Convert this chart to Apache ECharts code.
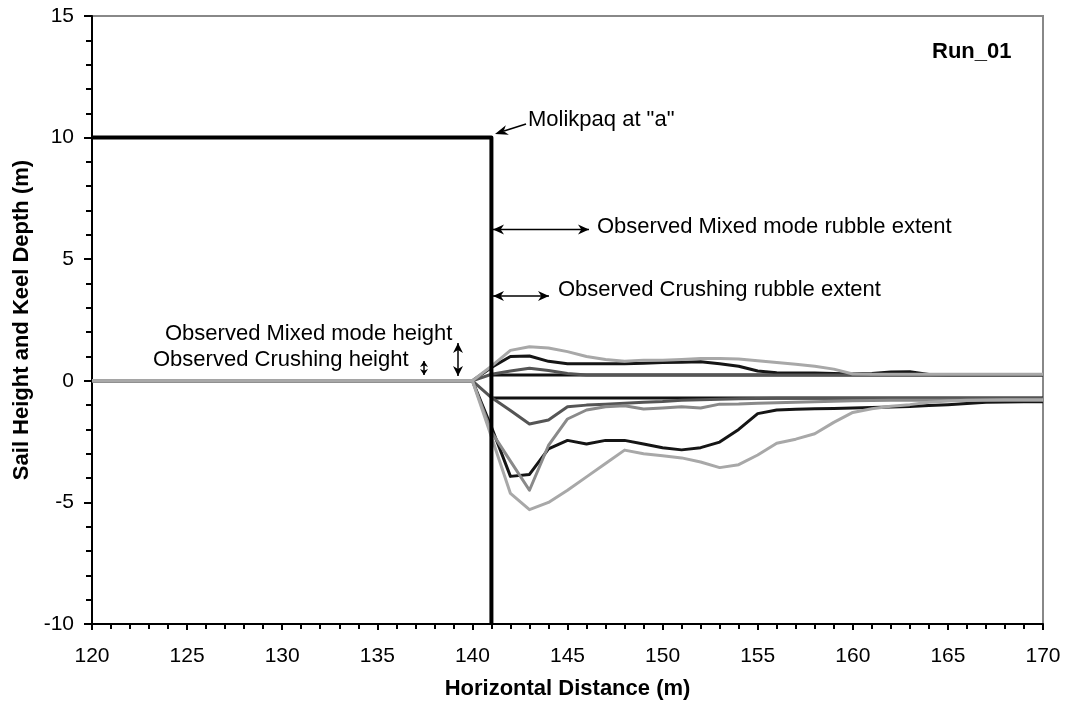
<!DOCTYPE html>
<html>
<head>
<meta charset="utf-8">
<script src="https://cdn.jsdelivr.net/npm/echarts@6/dist/echarts.min.js"></script>
<style>
  html, body { margin: 0; padding: 0; background: #fff; }
  #main { width: 1066px; height: 705px; }
</style>
</head>
<body>
<div id="main"></div>
<script>
// horizontal distance (m): 120, then every metre from 140 to 170
const dist = [120, 140, 141, 142, 143, 144, 145, 146, 147, 148, 149, 150, 151, 152, 153, 154, 155,
  156, 157, 158, 159, 160, 161, 162, 163, 164, 165, 166, 167, 168, 169, 170]

// sail heights (m)
const sailLight = [0, 0, 0.6, 1.25, 1.4, 1.35, 1.2, 1.0, 0.88, 0.8, 0.85, 0.85, 0.88, 0.92, 0.92, 0.9, 0.82,
  0.75, 0.68, 0.6, 0.48, 0.28, 0.27, 0.27, 0.27, 0.27, 0.27, 0.27, 0.27, 0.27, 0.27, 0.27]
const sailBlack = [0, 0, 0.55, 1.0, 1.02, 0.8, 0.7, 0.7, 0.7, 0.7, 0.72, 0.75, 0.76, 0.78, 0.7, 0.6, 0.4,
  0.33, 0.32, 0.32, 0.3, 0.28, 0.3, 0.36, 0.37, 0.26, 0.25, 0.25, 0.25, 0.25, 0.25, 0.25]
const sailDark = [0, 0, 0.27, 0.4, 0.52, 0.42, 0.3, 0.24, 0.24, 0.24, 0.24, 0.24, 0.24, 0.24, 0.24, 0.24, 0.24,
  0.24, 0.24, 0.24, 0.24, 0.24, 0.24, 0.24, 0.24, 0.24, 0.24, 0.24, 0.24, 0.24, 0.24, 0.24]

// keel depths (m)
const keelLight = [0, 0, -2.3, -4.63, -5.3, -5.0, -4.5, -3.95, -3.4, -2.85, -3.0, -3.08, -3.17, -3.34, -3.57, -3.45, -3.05,
  -2.57, -2.4, -2.18, -1.71, -1.3, -1.15, -1.05, -0.98, -0.88, -0.83, -0.8, -0.79, -0.78, -0.78, -0.78]
const keelBlack = [0, 0, -1.9, -3.93, -3.85, -2.8, -2.45, -2.6, -2.45, -2.45, -2.6, -2.75, -2.84, -2.75, -2.52, -2.0, -1.35,
  -1.2, -1.17, -1.15, -1.14, -1.12, -1.1, -1.08, -1.06, -1.02, -0.98, -0.93, -0.88, -0.87, -0.86, -0.86]
const keelMid = [0, 0, -2.1, -3.3, -4.5, -2.66, -1.57, -1.2, -1.07, -1.03, -1.16, -1.12, -1.07, -1.12, -0.96, -0.95, -0.92,
  -0.9, -0.88, -0.86, -0.84, -0.82, -0.81, -0.8, -0.8, -0.8, -0.8, -0.8, -0.8, -0.8, -0.8, -0.8]
const keelDark = [0, 0, -0.69, -1.22, -1.78, -1.61, -1.07, -1.0, -0.96, -0.92, -0.88, -0.85, -0.8, -0.78, -0.76, -0.74, -0.73,
  -0.72, -0.72, -0.72, -0.72, -0.72, -0.72, -0.72, -0.72, -0.72, -0.72, -0.72, -0.72, -0.72, -0.72, -0.72]

// level ice surfaces
const levelX = [141, 170]
const iceTop = [0.24, 0.24]
const iceBottom = [-0.71, -0.71]

// Molikpaq outline
const molX = [120, 141, 141]
const molY = [10, 10, -10]

const pairs = (xs, ys) => xs.map((x, i) => [x, ys[i]])

function lineSeries (xs, ys, color, width, z) {
  return {
    type: 'line',
    data: pairs(xs, ys),
    showSymbol: false,
    symbol: 'none',
    silent: true,
    z: z,
    lineStyle: { color: color, width: width, join: 'round' }
  }
}

// filled arrow head, tip at (x, y), pointing along (dx, dy)
function head (x, y, dx, dy, len, hw) {
  const l = Math.sqrt(dx * dx + dy * dy)
  const ux = dx / l
  const uy = dy / l
  const bx = x - ux * len
  const by = y - uy * len
  const nx = x - ux * len * 0.7
  const ny = y - uy * len * 0.7
  return {
    type: 'polygon',
    shape: { points: [[x, y], [bx - uy * hw, by + ux * hw], [nx, ny], [bx + uy * hw, by - ux * hw]] },
    style: { fill: '#000' }
  }
}

function dblArrow (x1, y1, x2, y2, len, hw) {
  return [
    { type: 'line', shape: { x1: x1, y1: y1, x2: x2, y2: y2 }, style: { stroke: '#000', lineWidth: 1.5 } },
    head(x1, y1, x1 - x2, y1 - y2, len, hw),
    head(x2, y2, x2 - x1, y2 - y1, len, hw)
  ]
}

function label (text, x, y, opts) {
  return {
    type: 'text',
    x: x,
    y: y,
    style: Object.assign({
      text: text,
      fill: '#000',
      font: '22px "Liberation Sans", Arial, sans-serif',
      verticalAlign: 'middle',
      align: 'left'
    }, opts || {})
  }
}

const myChart = echarts.init(document.getElementById('main'))

const graphics = [].concat(
  dblArrow(493, 229.5, 589, 229.5, 11, 5),
  dblArrow(493, 296, 549, 296, 11, 5),
  dblArrow(458, 343, 458, 376, 10, 5),
  dblArrow(424, 361, 424, 375, 6, 4),
  [
    { type: 'line', shape: { x1: 526, y1: 124, x2: 504, y2: 131 }, style: { stroke: '#000', lineWidth: 1.5 } },
    head(495, 134, -31, 10, 13, 5),
    label('Molikpaq at "a"', 528, 120),
    label('Observed Mixed mode rubble extent', 597, 227),
    label('Observed Crushing rubble extent', 558, 290),
    label('Observed Mixed mode height', 165, 333.5),
    label('Observed Crushing height', 153, 360),
    label('Run_01', 932, 52, { font: 'bold 22px "Liberation Sans", Arial, sans-serif' })
  ]
)

myChart.setOption({
  animation: false,
  backgroundColor: '#fff',
  textStyle: { fontFamily: '"Liberation Sans", Arial, sans-serif' },
  grid: {
    left: 92,
    top: 16,
    right: 23,
    bottom: 77,
    show: true,
    borderColor: '#888',
    borderWidth: 2
  },
  xAxis: {
    type: 'value',
    min: 120,
    max: 170,
    interval: 5,
    name: 'Horizontal Distance (m)',
    nameLocation: 'middle',
    nameGap: 54,
    nameTextStyle: { fontSize: 22, fontWeight: 'bold', color: '#000' },
    axisLine: { onZero: false, lineStyle: { color: '#000', width: 2 } },
    axisTick: { length: 6, lineStyle: { color: '#000', width: 2 } },
    minorTick: { show: true, splitNumber: 5, length: 5, lineStyle: { color: '#000', width: 2 } },
    splitLine: { show: false },
    axisLabel: { fontSize: 21, color: '#000', margin: 22 }
  },
  yAxis: {
    type: 'value',
    min: -10,
    max: 15,
    interval: 5,
    name: 'Sail Height and Keel Depth (m)',
    nameLocation: 'middle',
    nameGap: 58,
    nameTextStyle: { fontSize: 22, fontWeight: 'bold', color: '#000' },
    axisLine: { onZero: false, lineStyle: { color: '#000', width: 2 } },
    axisTick: { length: 8, lineStyle: { color: '#000', width: 2 } },
    minorTick: { show: true, splitNumber: 5, length: 6, lineStyle: { color: '#000', width: 2 } },
    splitLine: { show: false },
    axisLabel: { fontSize: 21, color: '#000', margin: 18 }
  },
  series: [
    lineSeries(levelX, iceTop, '#111', 3, 2),
    lineSeries(levelX, iceBottom, '#111', 3, 2),
    lineSeries(dist, sailBlack, '#151515', 3, 3),
    lineSeries(dist, keelBlack, '#151515', 3, 3),
    lineSeries(dist, sailDark, '#555', 3, 4),
    lineSeries(dist, keelDark, '#555', 3, 4),
    lineSeries(dist, keelMid, '#8a8a8a', 3, 5),
    lineSeries(dist, sailLight, '#a8a8a8', 3, 6),
    lineSeries(dist, keelLight, '#a8a8a8', 3, 6),
    lineSeries(molX, molY, '#000', 4, 8)
  ],
  graphic: graphics
})
</script>
</body>
</html>
